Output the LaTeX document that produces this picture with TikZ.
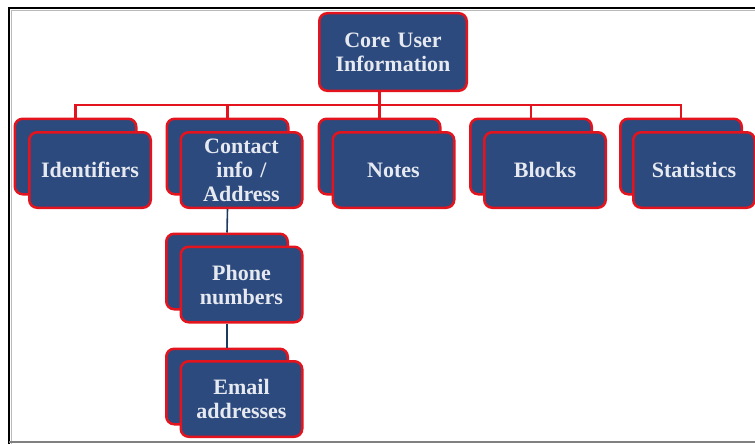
\documentclass[tikz,border=0pt]{standalone}
\usepackage{fontspec}
\setmainfont{Liberation Serif}
\definecolor{boxblue}{HTML}{2C4A7E}
\definecolor{boxred}{HTML}{E3141E}
\definecolor{txtc}{HTML}{E6E9EF}
\definecolor{vline}{HTML}{1F3A60}
\begin{document}
\begin{tikzpicture}[x=1pt,y=-1pt,
  box/.style={draw=boxred, fill=boxblue, line width=2.5pt, rounded corners=8pt,
    minimum width=121.5pt, minimum height=75.5pt, inner sep=0pt},
  lbl/.style={box, text=txtc, font=\fontsize{22}{24}\selectfont\bfseries,
    align=center, text width=118pt},
  topbox/.style={lbl, minimum width=147.5pt, minimum height=77.5pt, text width=144pt},
  redconn/.style={draw=boxred, line width=2.2pt},
  blueconn/.style={draw=vline, line width=1.6pt}]
\useasboundingbox (0,0) rectangle (755,444);
\fill[white] (0,0) rectangle (755,444);
% frame
\draw[gray!55, line width=1pt] (11.5,444) -- (11.5,10.5) -- (755,10.5);
\draw[black, line width=2pt] (9,444) -- (9,8) -- (755,8);
\draw[gray, line width=2pt] (9,441.8) -- (755,441.8);

\node[topbox] (top) at (393,52) {Core User\\Information};

% back boxes
\node[box] (idb) at (75.5,156.5) {};
\node[box] (cb) at (227.5,156.5) {};
\node[box] (nb) at (379.5,156.5) {};
\node[box] (bb) at (531,156.5) {};
\node[box] (sb) at (681,156.5) {};
\node[box] (pb) at (227,271.5) {};
\node[box] (eb) at (227,386.5) {};

% front boxes
\node[lbl] (idf) at (90,170) {Identifiers};
\node[lbl] (cf) at (241.5,170) {Contact\\info /\\Address};
\node[lbl] (nf) at (393.5,170) {Notes};
\node[lbl] (bf) at (545,170) {Blocks};
\node[lbl] (sf) at (694,170) {Statistics};
\node[lbl] (pf) at (241.5,284.5) {Phone\\numbers};
\node[lbl] (ef) at (241.5,399) {Email\\addresses};

% connectors
\coordinate (bar) at (379.5,105);
\draw[redconn] (top.south -| nb.north) -- (nb.north);
\draw[redconn] (idb.north) |- (bar -| sb.north) -- (sb.north);
\draw[redconn] (cb.north) -- (cb.north |- bar);
\draw[redconn] (bb.north) -- (bb.north |- bar);
\draw[blueconn] (cb.south |- cf.south) -- (pb.north);
\draw[blueconn] (pb.south |- pf.south) -- (eb.north);
\end{tikzpicture}
\end{document}
